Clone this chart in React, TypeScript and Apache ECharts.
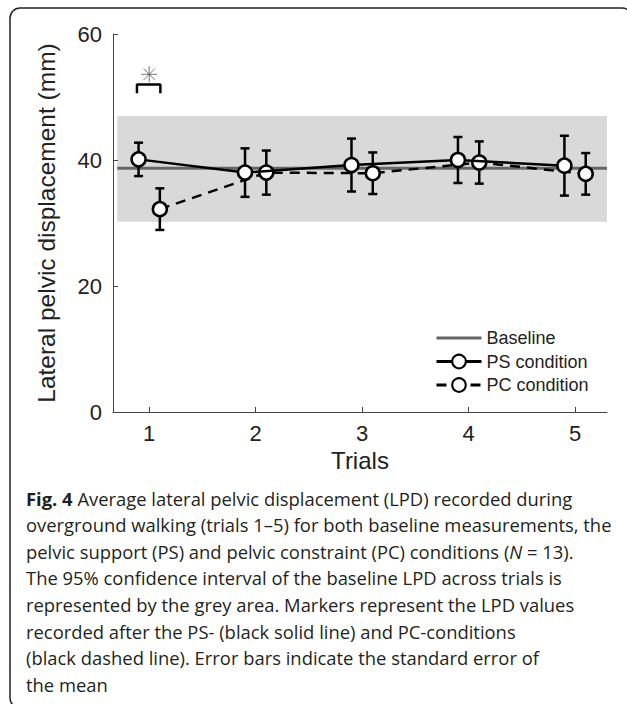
import React, { useEffect, useRef } from "react";
import * as echarts from "echarts";

// ---- data ----
const trials = [1, 2, 3, 4, 5];
const psMean = [40.1, 38.0, 39.2, 40.0, 39.1];
const psSE = [2.65, 3.85, 4.2, 3.65, 4.75];
const pcMean = [32.2, 38.0, 37.9, 39.6, 37.8];
const pcSE = [3.3, 3.5, 3.3, 3.35, 3.3];
const baselineMean = 38.7;
const baselineCI = [30.2, 47.0];
const baselineSpan = [0.7, 5.3];
const groupOffset = 0.1;
const sigTrial = 1;
const sigStarY = 53.6;
const sigBracket = { x0: 0.885, x1: 1.105, yLow: 50.6, yTop: 52.0 };
const yTickValues = [0, 20, 40, 60];
const legendNames = ["Baseline", "PS condition", "PC condition"];
const captionLines = [
  "{b|Fig. 4} Average lateral pelvic displacement (LPD) recorded during",
  "overground walking (trials 1–5) for both baseline measurements, the",
  "pelvic support (PS) and pelvic constraint (PC) conditions ({i|N} = 13).",
  "The 95% confidence interval of the baseline LPD across trials is",
  "represented by the grey area. Markers represent the LPD values",
  "recorded after the PS- (black solid line) and PC-conditions",
  "(black dashed line). Error bars indicate the standard error of",
  "the mean",
];

const AXIS_FONT = "'Liberation Sans', Arial, sans-serif";
const CAPTION_FONT = "'Open Sans', 'Noto Sans', sans-serif";
const CAP_SIZE = 18.4;

export default function App() {
  const ref = useRef<HTMLDivElement>(null);

  useEffect(() => {
    if (!ref.current) return;
    const chart = echarts.init(ref.current, undefined, { renderer: "svg" });

    const psPoints = trials.map((t, i) => [t - groupOffset, psMean[i]]);
    const pcPoints = trials.map((t, i) => [t + groupOffset, pcMean[i]]);
    const errData = [
      ...trials.map((t, i) => [t - groupOffset, psMean[i] - psSE[i], psMean[i] + psSE[i]]),
      ...trials.map((t, i) => [t + groupOffset, pcMean[i] - pcSE[i], pcMean[i] + pcSE[i]]),
    ];

    const caption = captionLines.map((line, i) => ({
      type: "text",
      left: 26,
      top: 489 + i * 26.6,
      silent: true,
      style: {
        text: line,
        fill: "#231f20",
        fontSize: CAP_SIZE,
        fontFamily: CAPTION_FONT,
        rich: {
          b: { fontWeight: "bold", fontSize: CAP_SIZE, fontFamily: CAPTION_FONT, fill: "#231f20" },
          i: { fontStyle: "italic", fontSize: CAP_SIZE, fontFamily: CAPTION_FONT, fill: "#231f20" },
        },
      },
    }));

    const option: any = {
      animation: false,
      backgroundColor: "#ffffff",
      grid: { left: 113, right: 20, top: 34, bottom: 292, containLabel: false },
      xAxis: {
        type: "value",
        min: 0.66,
        max: 5.3,
        name: "Trials",
        nameLocation: "middle",
        nameGap: 33,
        nameTextStyle: { fontSize: 24, color: "#222", fontFamily: AXIS_FONT },
        axisLine: { show: true, onZero: false, lineStyle: { color: "#444", width: 1 } },
        axisTick: { show: true, inside: true, length: 5, customValues: trials, lineStyle: { color: "#444" } },
        axisLabel: { customValues: trials, fontSize: 22, margin: 10, color: "#222", fontFamily: AXIS_FONT },
        splitLine: { show: false },
      },
      yAxis: {
        type: "value",
        min: 0,
        max: 60,
        interval: 20,
        name: "Lateral pelvic displacement (mm)",
        nameLocation: "middle",
        nameGap: 54,
        nameTextStyle: { fontSize: 24.5, color: "#222", fontFamily: AXIS_FONT },
        axisLine: { show: true, lineStyle: { color: "#444", width: 1 } },
        axisTick: { show: true, inside: true, length: 5, customValues: yTickValues, lineStyle: { color: "#444" } },
        axisLabel: { customValues: yTickValues, fontSize: 22, margin: 11, color: "#222", fontFamily: AXIS_FONT },
        splitLine: { show: false },
      },
      legend: {
        data: [
          {
            name: legendNames[0],
            itemStyle: { color: "rgba(0,0,0,0)", borderColor: "rgba(0,0,0,0)", borderWidth: 0, opacity: 0 },
            lineStyle: { width: 3, color: "#666" },
          },
          { name: legendNames[1], lineStyle: { width: 2.8, color: "#000" } },
          { name: legendNames[2], lineStyle: { width: 2.8, color: "#000" } },
        ],
        orient: "vertical",
        left: 435,
        top: 329,
        padding: 0,
        itemWidth: 45,
        itemHeight: 17,
        itemGap: 5.5,
        textStyle: { fontSize: 18, color: "#222", fontFamily: AXIS_FONT },
      },
      graphic: [
        {
          type: "rect",
          silent: true,
          shape: { x: 10, y: 8, width: 622, height: 700, r: 10 },
          style: { fill: "none", stroke: "#222", lineWidth: 1.5 },
          z: 100,
        },
        ...caption,
      ],
      series: [
        {
          name: "band",
          type: "custom",
          z: 0,
          silent: true,
          data: [[baselineSpan[0], baselineCI[0], baselineSpan[1], baselineCI[1]]],
          renderItem: (params: any, api: any) => {
            const p0 = api.coord([api.value(0), api.value(3)]);
            const p1 = api.coord([api.value(2), api.value(1)]);
            return {
              type: "rect",
              shape: { x: p0[0], y: p0[1], width: p1[0] - p0[0], height: p1[1] - p0[1] },
              style: { fill: "#d9d9d9" },
            };
          },
        },
        {
          name: "Baseline",
          type: "line",
          z: 1,
          data: [
            [baselineSpan[0], baselineMean],
            [baselineSpan[1], baselineMean],
          ],
          symbol: "none",
          lineStyle: { color: "#666", width: 3 },
          itemStyle: { color: "#666" },
        },
        {
          name: "errorbars",
          type: "custom",
          z: 2,
          silent: true,
          data: errData,
          renderItem: (params: any, api: any) => {
            const lo = api.coord([api.value(0), api.value(1)]);
            const hi = api.coord([api.value(0), api.value(2)]);
            const cap = 4.5;
            const st = { stroke: "#000", lineWidth: 2.5 };
            return {
              type: "group",
              children: [
                { type: "line", shape: { x1: lo[0], y1: lo[1], x2: hi[0], y2: hi[1] }, style: st },
                { type: "line", shape: { x1: lo[0] - cap, y1: lo[1], x2: lo[0] + cap, y2: lo[1] }, style: st },
                { type: "line", shape: { x1: hi[0] - cap, y1: hi[1], x2: hi[0] + cap, y2: hi[1] }, style: st },
              ],
            };
          },
        },
        {
          name: "PC condition",
          type: "line",
          z: 3,
          data: pcPoints,
          symbol: "circle",
          symbolSize: 14,
          lineStyle: { color: "#000", width: 2.5, type: [10, 7] },
          itemStyle: { color: "#fff", borderColor: "#000", borderWidth: 2.5 },
        },
        {
          name: "PS condition",
          type: "line",
          z: 4,
          data: psPoints,
          symbol: "circle",
          symbolSize: 14,
          lineStyle: { color: "#000", width: 2.5 },
          itemStyle: { color: "#fff", borderColor: "#000", borderWidth: 2.5 },
        },
        {
          name: "bracket",
          type: "line",
          z: 4,
          silent: true,
          data: [
            [sigBracket.x0, sigBracket.yLow],
            [sigBracket.x0, sigBracket.yTop],
            [sigBracket.x1, sigBracket.yTop],
            [sigBracket.x1, sigBracket.yLow],
          ],
          symbol: "none",
          lineStyle: { color: "#000", width: 2.5 },
        },
        {
          name: "star",
          type: "scatter",
          z: 4,
          silent: true,
          data: [[sigTrial, sigStarY]],
          symbol: "path://M7 0 L7 14 M0 7 L14 7 M2 2 L12 12 M12 2 L2 12",
          symbolSize: 16,
          itemStyle: { color: "none", borderColor: "#555", borderWidth: 1 },
        },
      ],
    };

    chart.setOption(option);
    return () => chart.dispose();
  }, []);

  return (
    <div
      ref={ref}
      style={{ position: "absolute", left: 0, top: 0, width: 627, height: 704, background: "#fff" }}
    />
  );
}
